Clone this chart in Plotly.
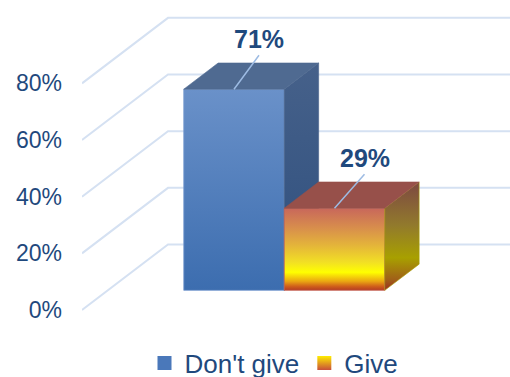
import plotly.graph_objects as go

# ---- data ----
categories = ["Don't give", "Give"]
values = [71, 29]
value_labels = ["71%", "29%"]
tick_values = [0, 20, 40, 60, 80]
tick_labels = ["0%", "20%", "40%", "60%", "80%"]

# ---- layout geometry (pixels) ----
W, H = 510, 377
ML = 82
PX_PER_UNIT = 100.5      # one category width
PX_PER_PCT = 2.833       # vertical pixels per percent
X0_PX = 208.2            # front-plane center of first category
ZERO_PX = 310            # front-plane y pixel of 0%
DEPTH_DX_PX, DEPTH_DY_PX = 86, 65.5

DX = DEPTH_DX_PX / PX_PER_UNIT
DY = DEPTH_DY_PX / PX_PER_PCT
xr = [(ML - X0_PX) / PX_PER_UNIT, (W - X0_PX) / PX_PER_UNIT]
yr = [(ZERO_PX - H) / PX_PER_PCT, ZERO_PX / PX_PER_PCT]
D0, D1 = 0.3, 0.7        # bar front / back depth fraction
BAR_W = 1.0

TEXT_COLOR = "#1F497D"
GRID_COLOR = "#D5E1F2"
FONT = "Liberation Sans, Arial, sans-serif"


def proj(x, v, d):
    return x + d * DX, v + d * DY


styles = [
    dict(
        front=[[0, "#3C6DAF"], [1, "#6A91C9"]],
        edge="#7A9CD0",
        top="#4F6A91",
        side=[[0, "#2E4F7E"], [1, "#46618A"]],
        legend=dict(color="#4A78BA"),
    ),
    dict(
        front=[[0, "#B43A22"], [0.05, "#D0601A"], [0.11, "#EAA612"], [0.22, "#FFFF00"],
               [0.34, "#F2E024"], [0.55, "#E4B43A"], [0.76, "#D88E4C"], [1, "#C8675B"]],
        edge="#C8675B",
        top="#97504A",
        side=[[0, "#9C2E22"], [0.1, "#A06018"], [0.3, "#A8A000"], [0.6, "#927A2C"], [1, "#7C4842"]],
        legend=dict(color="#FFEE00", gradient=dict(type="vertical", color="#C8503A")),
    ),
]

fig = go.Figure()

# gridlines: front-left diagonal, then along back wall
for v in tick_values:
    xa, ya = proj(xr[0], v, 0)
    xb, yb = proj(xr[0], v, 1)
    fig.add_trace(go.Scatter(
        x=[xa, xb, xr[1] + 1], y=[ya, yb, yb], mode="lines",
        line=dict(color=GRID_COLOR, width=2), hoverinfo="skip", showlegend=False))


def poly(pts):
    xs = [p[0] for p in pts] + [pts[0][0]]
    ys = [p[1] for p in pts] + [pts[0][1]]
    return xs, ys


for i, (cat, v) in enumerate(zip(categories, values)):
    st = styles[i]
    xa, xb = i - BAR_W / 2, i + BAR_W / 2
    # front face
    pts = [proj(xa, 0, D0), proj(xb, 0, D0), proj(xb, v, D0), proj(xa, v, D0)]
    xs, ys = poly(pts)
    fig.add_trace(go.Scatter(
        x=xs, y=ys, mode="lines", fill="toself",
        line=dict(width=0.8, color=st["edge"]),
        fillgradient=dict(type="vertical", colorscale=st["front"],
                          start=proj(0, 0, D0)[1], stop=proj(0, v, D0)[1]),
        hoverinfo="skip", showlegend=False))
    # right side face
    pts = [proj(xb, 0, D0), proj(xb, 0, D1), proj(xb, v, D1), proj(xb, v, D0)]
    xs, ys = poly(pts)
    fig.add_trace(go.Scatter(
        x=xs, y=ys, mode="lines", fill="toself",
        line=dict(width=0.6, color=st["side"][len(st["side"]) // 2][1]),
        fillgradient=dict(type="vertical", colorscale=st["side"],
                          start=proj(0, 0, D0)[1], stop=proj(0, v, D1)[1]),
        hoverinfo="skip", showlegend=False))
    # top face
    pts = [proj(xa, v, D0), proj(xb, v, D0), proj(xb, v, D1), proj(xa, v, D1)]
    xs, ys = poly(pts)
    fig.add_trace(go.Scatter(
        x=xs, y=ys, mode="lines", fill="toself", fillcolor=st["top"],
        line=dict(width=0.6, color=st["top"]),
        hoverinfo="skip", showlegend=False))

# legend entries
for i, cat in enumerate(categories):
    fig.add_trace(go.Scatter(
        x=[None], y=[None], mode="markers", name=cat,
        marker=dict(symbol="square", size=14, line=dict(width=0), **styles[i]["legend"])))

# value labels with leader lines
annotations = []
for i, (v, lab) in enumerate(zip(values, value_labels)):
    x, y = proj(i, v, D0)
    annotations.append(dict(
        x=x, y=y, xref="x", yref="y", text=f"<b>{lab}</b>",
        showarrow=True, arrowhead=0, arrowwidth=1.5, arrowcolor="#9DBBE3",
        ax=25 + 5 * i, ay=-34, xanchor="center", yanchor="bottom", standoff=0,
        font=dict(size=25, color=TEXT_COLOR, family=FONT)))

fig.update_layout(
    width=W, height=H,
    margin=dict(l=ML, r=0, t=0, b=0, autoexpand=False),
    paper_bgcolor="white", plot_bgcolor="white",
    showlegend=True,
    legend=dict(orientation="h", x=(274 - ML) / (W - ML), xanchor="center",
                y=1 - 363 / H, yanchor="middle",
                font=dict(size=26, color=TEXT_COLOR, family=FONT),
                bgcolor="rgba(0,0,0,0)"),
    annotations=annotations,
    xaxis=dict(range=xr, visible=False, fixedrange=True, automargin=False),
    yaxis=dict(range=yr, showgrid=False, zeroline=False, showline=False,
               tickvals=tick_values, ticktext=tick_labels, ticks="",
               ticklabelstandoff=19, automargin=False,
               tickfont=dict(size=23, color=TEXT_COLOR, family=FONT),
               fixedrange=True),
)

fig.write_html("out.html",
               config={"displayModeBar": False, "staticPlot": True},
               post_script="document.body.style.margin='0';document.body.style.overflow='hidden';")
